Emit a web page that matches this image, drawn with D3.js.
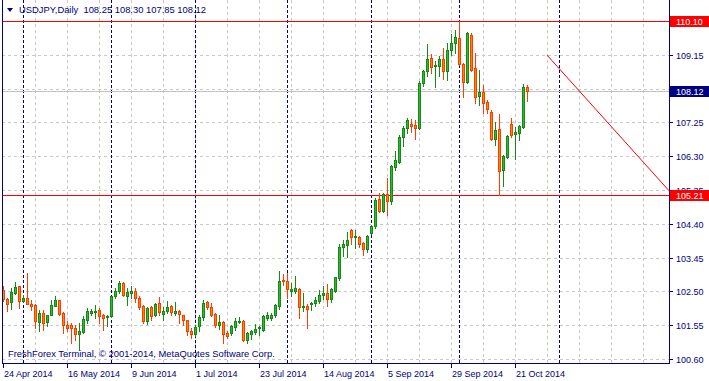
<!DOCTYPE html>
<html lang="en">
<head>
<meta charset="UTF-8">
<title>USDJPY Daily</title>
<script src="https://d3js.org/d3.v7.min.js"></script>
<style>
  body { margin: 0; background: #fff; }
  svg { display: block; font-family: Tahoma, "Liberation Sans", Arial, sans-serif; font-size: 9px; }
  .caption { font-size: 9.4px; }
</style>
</head>
<body>
<div id="chart"></div>
<script>
// daily bars, first bar is 24 Apr 2014, weekdays only
const startDate = new Date(2014, 3, 24);

const opens = [
  102.53, 102.29, 102.19, 102.46, 102.64, 102.22, 102.31, 102.16, 102.12, 101.64,
  101.89, 101.63, 101.85, 102.10, 102.26, 101.89, 101.56, 101.56, 101.47, 101.31,
  101.35, 101.71, 101.90, 101.91, 101.98, 101.84, 101.77, 101.80, 102.36, 102.50,
  102.74, 102.38, 102.47, 102.52, 102.33, 102.08, 101.68, 102.05, 101.85, 102.17,
  101.87, 101.94, 102.08, 101.89, 101.96, 101.83, 101.69, 101.40, 101.30, 101.52,
  101.77, 102.19, 102.05, 101.87, 101.55, 101.64, 101.33, 101.33, 101.51, 101.63,
  101.67, 101.13, 101.30, 101.36, 101.46, 101.43, 101.76, 101.75, 101.84, 102.10,
  102.81, 102.79, 102.52, 102.52, 102.57, 102.07, 102.10, 102.15, 102.18, 102.24,
  102.40, 102.45, 102.29, 102.51, 102.87, 103.76, 103.80, 104.23, 104.02, 104.04,
  103.87, 103.69, 104.15, 104.34, 105.10, 104.76, 105.24, 105.05, 106.00, 106.15,
  106.85, 107.08, 107.20, 107.17, 107.10, 108.35, 108.68, 109.05, 108.82, 108.84,
  109.03, 108.70, 109.27, 109.47, 109.61, 108.89, 108.38, 109.71, 108.77, 107.99,
  108.09, 107.83, 107.55, 106.78, 107.06, 105.91, 106.29, 107.20, 106.92, 106.96,
  107.11, 108.25
];
const highs = [
  102.64, 102.31, 102.61, 102.76, 102.66, 102.41, 103.02, 102.27, 102.15, 101.99,
  101.99, 101.85, 102.25, 102.36, 102.27, 101.91, 101.66, 101.61, 101.57, 101.61,
  101.80, 102.03, 102.01, 102.11, 102.03, 101.87, 101.85, 102.38, 102.61, 102.78,
  102.76, 102.61, 102.64, 102.60, 102.36, 102.11, 102.06, 102.08, 102.17, 102.34,
  102.05, 102.22, 102.11, 102.19, 101.97, 101.85, 101.71, 101.47, 101.57, 101.85,
  102.27, 102.22, 102.17, 101.89, 101.85, 101.66, 101.38, 101.57, 101.76, 101.79,
  101.70, 101.37, 101.41, 101.58, 101.53, 101.84, 101.93, 101.90, 102.15, 103.08,
  102.99, 103.03, 102.73, 102.93, 102.59, 102.45, 102.14, 102.21, 102.35, 102.54,
  102.65, 102.71, 102.61, 102.91, 103.82, 103.94, 104.18, 104.25, 104.22, 104.06,
  103.90, 104.09, 104.37, 105.12, 105.28, 105.26, 105.68, 106.05, 106.45, 106.90,
  107.15, 107.36, 107.34, 107.32, 108.40, 108.72, 109.45, 109.17, 108.98, 109.12,
  109.33, 109.49, 109.73, 109.85, 110.09, 108.91, 109.78, 109.75, 109.19, 108.72,
  108.30, 107.88, 107.60, 107.27, 107.49, 106.33, 106.90, 107.36, 107.13, 107.18,
  108.32, 108.30
];
const lows = [
  102.22, 101.94, 102.01, 102.43, 102.03, 102.20, 102.15, 101.99, 101.47, 101.40,
  101.42, 101.52, 101.83, 102.08, 101.85, 101.33, 101.40, 101.05, 101.14, 100.86,
  101.33, 101.61, 101.85, 101.75, 101.61, 101.41, 101.52, 101.78, 102.31, 102.46,
  102.36, 102.11, 102.33, 102.19, 102.02, 101.61, 101.59, 101.71, 101.80, 101.85,
  101.70, 101.90, 101.85, 101.85, 101.61, 101.55, 101.28, 101.19, 101.26, 101.38,
  101.71, 102.02, 101.80, 101.49, 101.44, 101.05, 101.19, 101.28, 101.41, 101.60,
  101.10, 101.04, 101.17, 101.30, 101.27, 101.39, 101.71, 101.71, 101.79, 102.02,
  102.68, 102.33, 102.37, 102.45, 101.76, 101.96, 101.48, 101.98, 102.09, 102.18,
  102.29, 102.10, 102.21, 102.49, 102.82, 103.49, 103.48, 103.83, 103.73, 103.76,
  103.52, 103.62, 104.11, 104.27, 104.73, 104.72, 104.65, 104.97, 105.91, 106.10,
  106.59, 106.94, 106.99, 106.77, 107.05, 108.28, 108.55, 108.65, 108.23, 108.55,
  108.46, 108.44, 109.14, 109.19, 108.86, 107.97, 108.35, 108.70, 107.79, 107.74,
  107.50, 107.50, 106.75, 106.61, 105.21, 105.47, 106.24, 106.85, 106.21, 106.75,
  107.08, 107.85
];
const closes = [
  102.29, 102.16, 102.48, 102.62, 102.22, 102.33, 102.16, 102.10, 101.66, 101.89,
  101.61, 101.84, 102.13, 102.26, 101.87, 101.57, 101.47, 101.47, 101.31, 101.38,
  101.73, 101.96, 101.94, 101.96, 101.82, 101.75, 101.80, 102.36, 102.52, 102.74,
  102.39, 102.48, 102.52, 102.33, 102.05, 101.68, 102.03, 101.80, 102.15, 101.91,
  101.94, 102.06, 101.91, 101.96, 101.87, 101.71, 101.38, 101.31, 101.49, 101.77,
  102.17, 102.05, 101.85, 101.55, 101.63, 101.31, 101.26, 101.52, 101.67, 101.68,
  101.13, 101.32, 101.39, 101.44, 101.50, 101.81, 101.85, 101.84, 102.11, 102.79,
  102.78, 102.57, 102.58, 102.60, 102.07, 102.10, 102.00, 102.18, 102.26, 102.40,
  102.45, 102.30, 102.57, 102.90, 103.74, 103.83, 103.94, 104.04, 104.06, 103.83,
  103.69, 104.06, 104.34, 105.07, 104.77, 105.24, 105.05, 106.02, 106.19, 106.85,
  107.08, 107.32, 107.15, 107.10, 108.35, 108.68, 109.02, 108.80, 108.86, 109.03,
  108.70, 109.27, 109.47, 109.64, 108.89, 108.39, 109.75, 108.72, 107.97, 108.09,
  107.80, 107.62, 106.78, 107.03, 105.89, 106.30, 106.87, 106.90, 106.99, 107.15,
  108.24, 108.12
];

const priceTicks = [100.60, 101.55, 102.50, 103.45, 104.40, 105.35, 106.30, 107.25, 108.20, 109.15, 110.10];
const levelLines = [110.10, 105.21];
const bidPrice = 108.12;
const trendLine = [{bar: 136, price: 109.14}, {bar: 166.5, price: 105.33}];
const futureSeparators = [139];
const headerText = "USDJPY,Daily  108.25 108.30 107.85 108.12";
const copyrightText = "FreshForex Terminal, \u00a9 2001-2014, MetaQuotes Software Corp.";

const W = 709, H = 381;
const plot = {left: 2, right: 669, top: 0, bottom: 363};
const navy = "#000080";

// trading dates (weekdays from start)
const dates = [];
const d0 = new Date(startDate);
while (dates.length < opens.length) {
  if (d0.getDay() !== 0 && d0.getDay() !== 6) dates.push(new Date(d0));
  d0.setDate(d0.getDate() + 1);
}
const bars = opens.map((o, i) => ({i, date: dates[i], o, h: highs[i], l: lows[i], c: closes[i]}));

const x = d3.scaleLinear().domain([-0.25, 166.5]).range([plot.left, plot.right]);
const y = d3.scaleLinear().domain([100.49, 110.66]).range([plot.bottom, 1]);
const fmtDate = d3.timeFormat("%-d %b %Y");

const svg = d3.select("#chart").append("svg")
  .attr("width", W)
  .attr("height", H);

const px = v => Math.round(x(v));
const py = v => Math.round(y(v));

// grid
const gridBars = d3.range(8, 167, 8);
svg.append("g").selectAll("line")
  .data(gridBars)
  .enter().append("line")
  .attr("x1", d => px(d) + 0.5).attr("x2", d => px(d) + 0.5)
  .attr("y1", plot.top).attr("y2", plot.bottom)
  .attr("stroke", "#c8c8c8")
  .attr("stroke-dasharray", "3,3");

svg.append("g").selectAll("line")
  .data(priceTicks)
  .enter().append("line")
  .attr("x1", plot.left).attr("x2", plot.right)
  .attr("y1", d => py(d) + 0.5).attr("y2", d => py(d) + 0.5)
  .attr("stroke", "#c8c8c8")
  .attr("stroke-dasharray", "3,3");

// month separators
const sepBars = bars.filter((b, i) => i > 0 && b.date.getMonth() !== bars[i - 1].date.getMonth()).map(b => b.i)
  .concat(futureSeparators);
svg.append("g").selectAll("line")
  .data(sepBars)
  .enter().append("line")
  .attr("x1", d => px(d) + 0.5).attr("x2", d => px(d) + 0.5)
  .attr("y1", plot.top).attr("y2", plot.bottom)
  .attr("stroke", navy)
  .attr("stroke-dasharray", "3,2");

// bid line
svg.append("line")
  .attr("x1", plot.left).attr("x2", plot.right)
  .attr("y1", py(bidPrice) + 0.5).attr("y2", py(bidPrice) + 0.5)
  .attr("stroke", "#c0c0c0");

// horizontal levels
svg.append("g").selectAll("line")
  .data(levelLines)
  .enter().append("line")
  .attr("x1", plot.left).attr("x2", plot.right)
  .attr("y1", d => py(d) + 0.5).attr("y2", d => py(d) + 0.5)
  .attr("stroke", "#ff0000");

// trend line
svg.append("line")
  .attr("x1", x(trendLine[0].bar)).attr("y1", y(trendLine[0].price))
  .attr("x2", x(trendLine[1].bar)).attr("y2", y(trendLine[1].price))
  .attr("stroke", "#ff0000");

// candles
const upEdge = "#138a13", upFill = "#33b833";
const dnEdge = "#ff3c00", dnFill = "#ff8a00";
const candle = svg.append("g").selectAll("g")
  .data(bars)
  .enter().append("g");

candle.append("line")
  .attr("x1", d => px(d.i) + 0.5).attr("x2", d => px(d.i) + 0.5)
  .attr("y1", d => py(d.h)).attr("y2", d => py(d.l) + 1)
  .attr("stroke", d => d.c >= d.o ? upEdge : dnEdge);

candle.append("rect")
  .attr("x", d => px(d.i) - 1)
  .attr("width", 3)
  .attr("y", d => py(Math.max(d.o, d.c)))
  .attr("height", d => Math.max(1, py(Math.min(d.o, d.c)) - py(Math.max(d.o, d.c)) + 1))
  .attr("fill", d => d.c >= d.o ? upEdge : dnEdge);

candle.filter(d => py(Math.min(d.o, d.c)) - py(Math.max(d.o, d.c)) > 1)
  .append("rect")
  .attr("x", d => px(d.i))
  .attr("width", 1)
  .attr("y", d => py(Math.max(d.o, d.c)) + 1)
  .attr("height", d => py(Math.min(d.o, d.c)) - py(Math.max(d.o, d.c)) - 1)
  .attr("fill", d => d.c >= d.o ? upFill : dnFill);

// frame
svg.append("line").attr("x1", plot.left + 0.5).attr("x2", plot.left + 0.5)
  .attr("y1", plot.top).attr("y2", plot.bottom).attr("stroke", navy);
svg.append("line").attr("x1", plot.right + 0.5).attr("x2", plot.right + 0.5)
  .attr("y1", plot.top).attr("y2", plot.bottom + 1).attr("stroke", navy);
svg.append("line").attr("x1", plot.left).attr("x2", plot.right + 1)
  .attr("y1", plot.bottom + 0.5).attr("y2", plot.bottom + 0.5).attr("stroke", navy);

// price axis
const yAxis = svg.append("g");
yAxis.selectAll("line")
  .data(priceTicks)
  .enter().append("line")
  .attr("x1", plot.right).attr("x2", plot.right + 4)
  .attr("y1", d => py(d) + 0.5).attr("y2", d => py(d) + 0.5)
  .attr("stroke", navy);
yAxis.selectAll("text")
  .data(priceTicks)
  .enter().append("text")
  .attr("x", plot.right + 7)
  .attr("y", d => py(d) + 4)
  .attr("fill", navy)
  .text(d => d.toFixed(2));

// level and bid labels
const tags = levelLines.map(v => ({v, bg: "#ff0000"})).concat([{v: bidPrice, bg: navy}]);
const tag = svg.append("g").selectAll("g")
  .data(tags)
  .enter().append("g");
tag.append("rect")
  .attr("x", plot.right + 1)
  .attr("y", d => py(d.v) - 5)
  .attr("width", W - plot.right - 1)
  .attr("height", 11)
  .attr("fill", d => d.bg);
tag.append("text")
  .attr("x", plot.right + 7)
  .attr("y", d => py(d.v) + 4)
  .attr("fill", "#fff")
  .text(d => d.v.toFixed(2));

// time axis
const timeTicks = bars.filter(b => b.i % 16 === 0);
const xAxis = svg.append("g");
xAxis.selectAll("line")
  .data(timeTicks)
  .enter().append("line")
  .attr("x1", d => px(d.i) + 0.5).attr("x2", d => px(d.i) + 0.5)
  .attr("y1", plot.bottom + 1).attr("y2", plot.bottom + 5)
  .attr("stroke", navy);
xAxis.selectAll("text")
  .data(timeTicks)
  .enter().append("text")
  .attr("x", d => px(d.i) + 1)
  .attr("y", plot.bottom + 14)
  .attr("fill", navy)
  .text(d => fmtDate(d.date));

// header and copyright
svg.append("path").attr("d", "M7,8L13,8L10,12Z").attr("fill", navy);
svg.append("text").attr("class", "caption").attr("x", 19).attr("y", 13).attr("fill", navy)
  .attr("xml:space", "preserve").style("white-space", "pre")
  .text(headerText);
svg.append("text").attr("class", "caption").attr("x", 8).attr("y", 357).attr("fill", navy)
  .text(copyrightText);
</script>
</body>
</html>
